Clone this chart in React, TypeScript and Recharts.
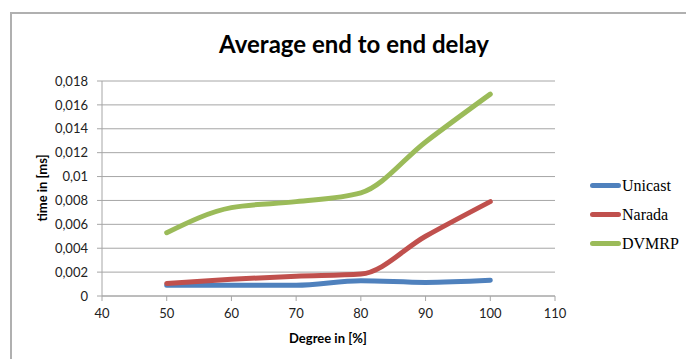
import { LineChart, Line, XAxis, YAxis, CartesianGrid } from "recharts";

const degrees = [50, 60, 70, 80, 90, 100];
const unicast = [0.0009, 0.0009, 0.0009, 0.00128, 0.00114, 0.00132];
const narada = [0.00105, 0.0014, 0.00166, 0.00184, 0.005, 0.0079];
const dvmrp = [0.0053, 0.0074, 0.0079, 0.00864, 0.0129, 0.0169];

const xTicks = [40, 50, 60, 70, 80, 90, 100, 110];
const yTicks = [0, 0.002, 0.004, 0.006, 0.008, 0.01, 0.012, 0.014, 0.016, 0.018];

const series = [
  { key: "unicast", name: "Unicast", color: "#4f81bd" },
  { key: "narada", name: "Narada", color: "#c0504d" },
  { key: "dvmrp", name: "DVMRP", color: "#9bbb59" },
];

const data = degrees.map((d, i) => ({
  degree: d,
  unicast: unicast[i],
  narada: narada[i],
  dvmrp: dvmrp[i],
}));

const font = "Lato, 'Open Sans', sans-serif";
const grey = "#a6a6a6";

const fmt = (v: number) => String(v).replace(".", ",");

export default function App() {
  return (
    <div style={{ position: "absolute", left: 0, top: 0, width: 686, height: 359, background: "#fff", overflow: "hidden" }}>
      <div
        style={{
          position: "absolute",
          left: 10,
          top: 12,
          width: 700,
          height: 400,
          border: "2px solid #b0b0b0",
        }}
      />
      <div
        style={{
          position: "absolute",
          left: 154,
          width: 400,
          top: 29,
          textAlign: "center",
          fontFamily: font,
          fontWeight: 700,
          fontSize: 24,
          color: "#000",
        }}
      >
        Average end to end delay
      </div>
      <div style={{ position: "absolute", left: 0, top: 0 }}>
        <LineChart
          width={686}
          height={359}
          data={data}
          margin={{ top: 81, right: 131, bottom: 33, left: 42 }}
        >
          <CartesianGrid horizontal vertical={false} stroke={grey} strokeWidth={1} />
          <XAxis
            dataKey="degree"
            type="number"
            domain={[40, 110]}
            ticks={xTicks}
            interval={0}
            height={30}
            stroke={grey}
            tickSize={5}
            tickMargin={8}
            tick={{ fontSize: 13, fill: "#222", fontFamily: font }}
            label={{
              content: () => (
                <text x={328} y={343} textAnchor="middle" fontFamily={font} fontWeight={700} fontSize={13} fill="#000">
                  Degree in [%]
                </text>
              ),
            }}
          />
          <YAxis
            type="number"
            domain={[0, 0.018]}
            ticks={yTicks}
            interval={0}
            width={60}
            stroke={grey}
            tickSize={5}
            tickMargin={9}
            tickFormatter={fmt}
            tick={{ fontSize: 13, fill: "#222", fontFamily: font }}
            label={{
              content: () => (
                <text
                  x={42}
                  y={188}
                  transform="rotate(-90 42 188)"
                  textAnchor="middle"
                  dominantBaseline="central"
                  fontFamily={font}
                  fontWeight={700}
                  fontSize={13}
                  fill="#000"
                >
                  time in [ms]
                </text>
              ),
            }}
          />
          {series.map((s) => (
            <Line
              key={s.key}
              dataKey={s.key}
              name={s.name}
              type="monotone"
              stroke={s.color}
              strokeWidth={5}
              strokeLinecap="round"
              dot={false}
              activeDot={false}
              isAnimationActive={false}
            />
          ))}
        </LineChart>
      </div>
      <div style={{ position: "absolute", left: 590, top: 171 }}>
        {series.map((s) => (
          <div key={s.key} style={{ display: "flex", alignItems: "center", height: 29 }}>
            <div style={{ width: 31, height: 5, borderRadius: 3, background: s.color }} />
            <span style={{ fontFamily: "'Liberation Serif', serif", fontSize: 16, color: "#000", marginLeft: 1 }}>
              {s.name}
            </span>
          </div>
        ))}
      </div>
    </div>
  );
}
